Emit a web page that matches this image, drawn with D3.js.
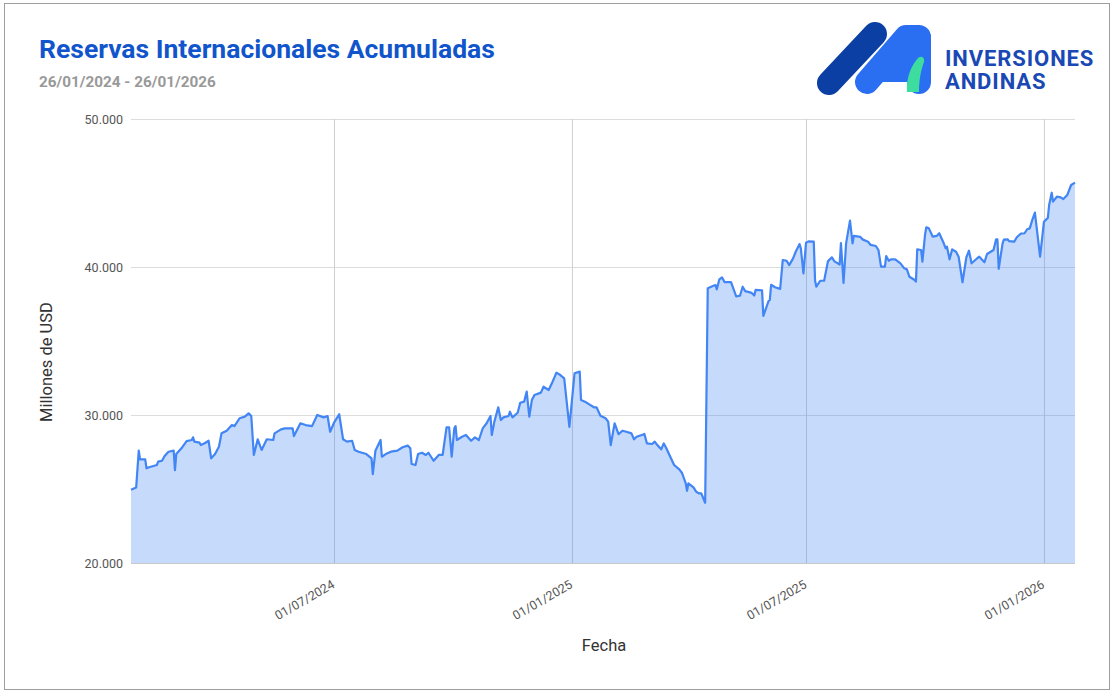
<!DOCTYPE html>
<html><head><meta charset="utf-8">
<script src="https://cdn.jsdelivr.net/npm/d3@7"></script>
<style>
html,body{margin:0;padding:0;background:#fff;}
svg{display:block;font-family:Roboto,"Noto Sans",Arial,sans-serif;}
</style></head>
<body>
<svg id="chart" width="1115" height="693"></svg>
<script>
// ---- DATA ----
const titleText = "Reservas Internacionales Acumuladas";
const subtitleText = "26/01/2024 - 26/01/2026";
const yAxisTitle = "Millones de USD";
const xAxisTitle = "Fecha";
const yTickValues = [20000, 30000, 40000, 50000];
const xTickDates = ["2024-07-01", "2025-01-01", "2025-07-01", "2026-01-01"];
const dates = ["2024-01-26","2024-01-30","2024-02-01","2024-02-02","2024-02-06","2024-02-07","2024-02-09","2024-02-15","2024-02-16","2024-02-19","2024-02-21","2024-02-24","2024-02-28","2024-02-29","2024-03-01","2024-03-05","2024-03-09","2024-03-13","2024-03-14","2024-03-15","2024-03-19","2024-03-20","2024-03-23","2024-03-26","2024-03-28","2024-03-31","2024-04-03","2024-04-05","2024-04-09","2024-04-13","2024-04-15","2024-04-19","2024-04-23","2024-04-26","2024-04-28","2024-04-30","2024-05-03","2024-05-06","2024-05-10","2024-05-15","2024-05-16","2024-05-21","2024-05-24","2024-05-30","2024-05-31","2024-06-05","2024-06-09","2024-06-14","2024-06-18","2024-06-23","2024-06-26","2024-06-28",
"2024-07-01","2024-07-05","2024-07-08","2024-07-11","2024-07-15","2024-07-17","2024-07-20","2024-07-26","2024-07-30","2024-07-31","2024-08-02","2024-08-06","2024-08-07","2024-08-10","2024-08-14","2024-08-19","2024-08-23","2024-08-27","2024-08-29","2024-08-30","2024-09-02","2024-09-04","2024-09-07","2024-09-10","2024-09-12","2024-09-16","2024-09-20","2024-09-23","2024-09-26","2024-09-28","2024-09-30","2024-10-02","2024-10-03","2024-10-04","2024-10-08","2024-10-11","2024-10-15","2024-10-18","2024-10-21","2024-10-24","2024-10-27","2024-10-30","2024-10-31","2024-11-02","2024-11-05","2024-11-07","2024-11-09","2024-11-13","2024-11-14","2024-11-16","2024-11-20","2024-11-22","2024-11-25","2024-11-27","2024-11-29","2024-12-01","2024-12-03","2024-12-08","2024-12-10","2024-12-14","2024-12-17","2024-12-20","2024-12-23","2024-12-26","2024-12-30",
"2025-01-03","2025-01-07","2025-01-08","2025-01-11","2025-01-15","2025-01-18","2025-01-20","2025-01-23","2025-01-27","2025-01-29","2025-01-31","2025-02-03","2025-02-06","2025-02-09","2025-02-12","2025-02-16","2025-02-18","2025-02-20","2025-02-24","2025-02-26","2025-02-28","2025-03-04","2025-03-06","2025-03-08","2025-03-11","2025-03-13","2025-03-15","2025-03-18","2025-03-21","2025-03-25","2025-03-27","2025-03-30","2025-03-31","2025-04-01","2025-04-05","2025-04-07","2025-04-09","2025-04-11","2025-04-14",
"2025-04-16","2025-04-20","2025-04-22","2025-04-23","2025-04-25","2025-04-27","2025-04-29","2025-05-04","2025-05-08","2025-05-11","2025-05-13","2025-05-15","2025-05-20","2025-05-22","2025-05-23","2025-05-28","2025-05-29","2025-06-02","2025-06-03","2025-06-04","2025-06-07","2025-06-11","2025-06-13","2025-06-16","2025-06-18","2025-06-21","2025-06-23","2025-06-26","2025-06-27","2025-06-29","2025-07-01","2025-07-03","2025-07-07","2025-07-08","2025-07-09","2025-07-12","2025-07-15","2025-07-18","2025-07-21","2025-07-23","2025-07-27","2025-07-28","2025-07-30","2025-08-01","2025-08-04","2025-08-06","2025-08-07","2025-08-12","2025-08-14","2025-08-18","2025-08-20","2025-08-24","2025-08-26","2025-08-28","2025-08-31",
"2025-09-01","2025-09-03","2025-09-05","2025-09-08","2025-09-12","2025-09-15","2025-09-17","2025-09-19","2025-09-23","2025-09-24","2025-09-25","2025-09-28","2025-09-29","2025-10-01","2025-10-02","2025-10-04","2025-10-07","2025-10-10","2025-10-12","2025-10-15","2025-10-17","2025-10-18","2025-10-20","2025-10-22","2025-10-25","2025-10-27","2025-10-30","2025-11-02","2025-11-04","2025-11-06","2025-11-10","2025-11-12","2025-11-16","2025-11-18","2025-11-23","2025-11-25","2025-11-26","2025-11-27","2025-11-30","2025-12-01","2025-12-04","2025-12-05","2025-12-09","2025-12-11","2025-12-14","2025-12-17","2025-12-19","2025-12-21","2025-12-23","2025-12-25","2025-12-29","2026-01-01","2026-01-04","2026-01-05","2026-01-07","2026-01-08","2026-01-11","2026-01-14","2026-01-16","2026-01-19","2026-01-22","2026-01-25"];
const reserves = [24950,25100,27590,27000,27000,26400,26470,26620,26850,26910,27230,27520,27590,26280,27360,27750,28240,28310,28490,28200,28130,27970,28090,28260,27070,27360,27860,28760,28940,29320,29250,29780,29890,30110,29930,27300,28360,27640,28360,28310,28760,29030,29100,29100,28580,29440,29320,29250,30000,29840,29930,28870,
29480,30050,28360,28200,28260,27640,27520,27360,27070,26000,27580,28310,27180,27360,27520,27590,27820,27930,27750,26690,26620,27360,27450,27300,27450,26910,27300,27300,29170,29170,27180,29100,29250,28310,28530,28650,28260,28490,28310,29100,29440,29930,28650,29550,30520,29660,29840,29930,30220,29840,30150,30830,30900,31580,29890,31010,31350,31510,31910,31690,32250,32860,32700,32480,29200,
32820,32930,31010,30900,30680,30520,30520,29950,29780,29550,27970,29440,28700,28940,28870,28760,28360,28530,28650,28720,28080,28040,28200,27970,27680,28080,27750,27180,26620,26330,26100,25380,24880,25380,25110,24820,24710,24700,24070,
38560,38720,38780,38490,39170,39300,38980,38980,38010,38070,38670,38370,38250,38070,38450,38420,36700,37700,37770,38800,38630,38520,40470,40420,40130,40580,41030,41550,41260,39570,41640,41730,41710,39070,38670,39070,39070,40400,40650,40380,40170,41620,38920,41600,43130,41600,42100,42030,41850,41710,41490,41420,41150,40020,40020,
40740,40420,40520,40520,40250,39910,39840,39340,39120,39010,41190,41150,40360,42160,42680,42610,42050,42100,42280,41710,41260,41370,40520,41190,41030,40700,38970,40660,41100,40250,40560,40700,40320,40880,41150,41870,41870,39880,41600,41850,41870,41750,41710,42010,42250,42280,42550,42610,43180,43680,40700,43060,43320,44190,45020,44420,44750,44710,44590,44860,45540,45700];

// ---- CHART ----
const parse = d3.utcParse("%Y-%m-%d");
const n = Math.min(dates.length, reserves.length);
const data = d3.range(n).map(i => ({date: parse(dates[i]), value: reserves[i]}));

const svg = d3.select("#chart");
const plot = {left: 131, right: 1075, top: 119, bottom: 563};

svg.append("rect").attr("x", 4.5).attr("y", 3.5).attr("width", 1105).attr("height", 686)
  .attr("fill", "#fff").attr("stroke", "#9e9e9e").attr("stroke-width", 1);

const x = d3.scaleUtc().domain([data[0].date, data[n-1].date]).range([plot.left, plot.right]);
const y = d3.scaleLinear().domain([20000, 50000]).range([plot.bottom, plot.top]);

const loc = d3.formatLocale({decimal: ",", thousands: ".", grouping: [3], currency: ["$", ""]});
const fmtY = loc.format(",.0f");
const fmtX = d3.utcFormat("%d/%m/%Y");

// horizontal gridlines + y labels
const yAxis = d3.axisLeft(y).tickValues(yTickValues).tickFormat(fmtY)
  .tickSize(-(plot.right - plot.left)).tickPadding(8);
const gy = svg.append("g").attr("transform", `translate(${plot.left},0)`).call(yAxis);
gy.select(".domain").remove();
gy.selectAll(".tick line").attr("stroke", "#dcdcdc").attr("stroke-width", 1);
gy.selectAll(".tick text").attr("fill", "#555").style("font-size", "12.5px")
  .style("font-family", "Roboto, sans-serif").attr("x", -8);

// vertical gridlines + x labels
const xTicks = xTickDates.map(parse);
const xAxis = d3.axisBottom(x).tickValues(xTicks).tickFormat(fmtX)
  .tickSize(-(plot.bottom - plot.top)).tickPadding(0);
const gx = svg.append("g").attr("transform", `translate(0,${plot.bottom})`).call(xAxis);
gx.select(".domain").remove();
gx.selectAll(".tick line").attr("stroke", "#cfcfcf").attr("stroke-width", 1);
gx.selectAll(".tick text").attr("fill", "#555").style("font-size", "12.5px")
  .style("font-family", "Roboto, sans-serif")
  .attr("text-anchor", "end").attr("dy", null).attr("y", 0)
  .attr("transform", "translate(1,24) rotate(-30)");

// area + line
const area = d3.area().x(d => x(d.date)).y0(y(20000)).y1(d => y(d.value));
const line = d3.line().x(d => x(d.date)).y(d => y(d.value));
svg.append("path").datum(data).attr("d", area).attr("fill", "#4285f4").attr("fill-opacity", 0.3);
svg.append("path").datum(data).attr("d", line).attr("fill", "none")
  .attr("stroke", "#4285f4").attr("stroke-width", 2.2).attr("stroke-linejoin", "round");

// baseline
svg.append("line").attr("x1", plot.left).attr("x2", plot.right)
  .attr("y1", y(20000) + 0.5).attr("y2", y(20000) + 0.5).attr("stroke", "#c8c8c8");

// titles
svg.append("text").attr("x", 39).attr("y", 58).text(titleText)
  .attr("fill", "#1155cc").style("font-size", "26.5px").style("font-weight", "700");
svg.append("text").attr("x", 39).attr("y", 87).text(subtitleText)
  .attr("fill", "#999999").style("font-size", "15.3px").style("font-weight", "700");
svg.append("text").attr("transform", "translate(52,362) rotate(-90)").attr("text-anchor", "middle")
  .text(yAxisTitle).attr("fill", "#333").style("font-size", "16.5px");
svg.append("text").attr("x", 604).attr("y", 651).attr("text-anchor", "middle")
  .text(xAxisTitle).attr("fill", "#333").style("font-size", "16.5px");

// logo
const logo = svg.append("g");
logo.append("line").attr("x1", 829).attr("y1", 83).attr("x2", 875).attr("y2", 34)
  .attr("stroke", "#0b3fa3").attr("stroke-width", 24).attr("stroke-linecap", "round");
logo.append("path").attr("d", "M867,82 L906,37 L919,37 L919,82")
  .attr("fill", "#2a6ef2").attr("stroke", "#2a6ef2").attr("stroke-width", 24)
  .attr("stroke-linecap", "round").attr("stroke-linejoin", "round");
logo.append("path").attr("d", "M907,92 C906,78 911,66 918,58 C922,55 925,58 924,62 C921,70 919,80 919,92 Z")
  .attr("fill", "#3ddc9f");
logo.append("text").attr("x", 945).attr("y", 66).text("INVERSIONES")
  .attr("fill", "#1a48b5").style("font-size", "22px").style("font-weight", "700").style("letter-spacing", "0.9px");
logo.append("text").attr("x", 945).attr("y", 89).text("ANDINAS")
  .attr("fill", "#1a48b5").style("font-size", "22px").style("font-weight", "700").style("letter-spacing", "0.9px");
</script>
</body></html>
